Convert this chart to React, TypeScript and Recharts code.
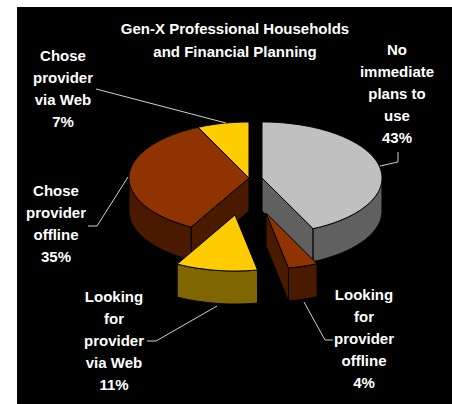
import { PieChart, Pie } from "recharts";

// Drawn starting from the large slice and running counter-clockwise, so that
// the front slices paint over the walls of the ones behind them.
const categories = [
  "No immediate plans to use",
  "Chose provider via Web",
  "Chose provider offline",
  "Looking for provider via Web",
  "Looking for provider offline",
];
const shares = [43, 7, 35, 11, 4];

const topColors = ["#c0c0c0", "#ffcc00", "#8f3300", "#ffcc00", "#8f3300"];
const wallColors = ["#606060", "#806600", "#4a1a00", "#806600", "#4a1a00"];

// Pull-out of each slice from the pie centre, in screen pixels.
const explodeX = [7, -6, -6, -20, 11];
const explodeY = [0, 0, 0, 37, 35];

const labelLines = [
  ["No", "immediate", "plans to", "use", "43%"],
  ["Chose", "provider", "via Web", "7%"],
  ["Chose", "provider", "offline", "35%"],
  ["Looking", "for", "provider", "via Web", "11%"],
  ["Looking", "for", "provider", "offline", "4%"],
];
const labelX = [397, 63, 56, 114, 364];
const labelY = [50, 56, 191, 297, 295];
const leaders = [
  "380,166 398,162 398,152",
  "96,89 226,123",
  "128,177 97,226 88,226",
  "217,306 156,341 147,341",
  "304,302 325,340 333,340",
];

const TILT = 56 / 120;
const DEPTH = 33;
const LINE_HEIGHT = 22;
const FONT = "'Liberation Sans', Arial, sans-serif";

const data = categories.map((name, i) => ({ name, value: shares[i] }));

function arcPoints(cx: number, cy: number, r: number, from: number, to: number) {
  const pts: [number, number][] = [];
  const steps = Math.max(2, Math.ceil(to - from));
  for (let i = 0; i <= steps; i++) {
    const t = ((from + ((to - from) * i) / steps) * Math.PI) / 180;
    pts.push([cx + r * Math.sin(t), cy - r * TILT * Math.cos(t)]);
  }
  return pts;
}

const toPath = (pts: [number, number][]) =>
  "M" + pts.map((p) => `${p[0].toFixed(1)},${p[1].toFixed(1)}`).join("L") + "Z";

// One extruded slice: walls first, then the elliptical top face.
function Slice(props: any) {
  const { cx, cy, outerRadius: r, startAngle, endAngle, index } = props;
  // recharts angles run counter-clockwise from 3 o'clock; switch to clockwise from 12
  let a1 = 90 - Math.max(startAngle, endAngle);
  let a2 = 90 - Math.min(startAngle, endAngle);
  // the tolerance keeps float noise at 12 o'clock from wrapping a full turn
  while (a1 < -0.01) {
    a1 += 360;
    a2 += 360;
  }
  const x = cx + explodeX[index];
  const y = cy + explodeY[index];
  const wall = wallColors[index];
  const top = [[x, y] as [number, number], ...arcPoints(x, y, r, a1, a2)];

  const drop = (pts: [number, number][]) =>
    pts.map((p) => [p[0], p[1] + DEPTH] as [number, number]);
  const faces: [number, number][][] = [];

  const radialWall = (angle: number) => {
    const edge = arcPoints(x, y, r, angle, angle)[0];
    const pts: [number, number][] = [[x, y], edge];
    faces.push([...pts, ...drop(pts).reverse()]);
  };
  if (Math.sin((a1 * Math.PI) / 180) < -0.001) radialWall(a1);
  if (Math.sin((a2 * Math.PI) / 180) > 0.001) radialWall(a2);

  // the rim only shows along the near half of the ellipse
  const rimFrom = Math.max(a1, 90);
  const rimTo = Math.min(a2, 270);
  if (rimTo > rimFrom) {
    const rim = arcPoints(x, y, r, rimFrom, rimTo);
    faces.push([...rim, ...drop(rim).reverse()]);
  }

  return (
    <g>
      {faces.map((f, i) => (
        <path key={i} d={toPath(f)} fill={wall} stroke="#000" strokeWidth={1} />
      ))}
      <path d={toPath(top)} fill={topColors[index]} stroke="#000" strokeWidth={1} />
    </g>
  );
}

// Stacked label text with its leader line.
function SliceLabel(props: any) {
  const { index } = props;
  return (
    <g>
      <polyline points={leaders[index]} fill="none" stroke="#d0d0d0" strokeWidth={1} />
      <text
        textAnchor="middle"
        fill="#fff"
        fontFamily={FONT}
        fontSize={15}
        fontWeight="bold"
      >
        {labelLines[index].map((line, i) => (
          <tspan key={i} x={labelX[index]} y={labelY[index] + 5 + i * LINE_HEIGHT}>
            {line}
          </tspan>
        ))}
      </text>
    </g>
  );
}

export default function App() {
  return (
    <div style={{ position: "fixed", left: 0, top: 0, width: 452, height: 404, background: "#fff" }}>
      <div style={{ position: "absolute", left: 17, top: 7, right: 0, bottom: 0, background: "#000" }} />
      <div style={{ position: "absolute", left: 0, top: 0 }}>
        <PieChart width={452} height={404} margin={{ top: 0, right: 0, bottom: 0, left: 0 }}>
          <text x={235} y={34} textAnchor="middle" fill="#fff" fontFamily={FONT} fontSize={15} fontWeight="bold">
            Gen-X Professional Households
          </text>
          <text x={235} y={57} textAnchor="middle" fill="#fff" fontFamily={FONT} fontSize={15} fontWeight="bold">
            and Financial Planning
          </text>
          <Pie
            data={data}
            dataKey="value"
            nameKey="name"
            cx={255}
            cy={178}
            outerRadius={120}
            innerRadius={0}
            startAngle={-64.8}
            endAngle={295.2}
            paddingAngle={0}
            stroke="none"
            shape={Slice}
            label={SliceLabel}
            labelLine={false}
            isAnimationActive={false}
          />
        </PieChart>
      </div>
    </div>
  );
}
